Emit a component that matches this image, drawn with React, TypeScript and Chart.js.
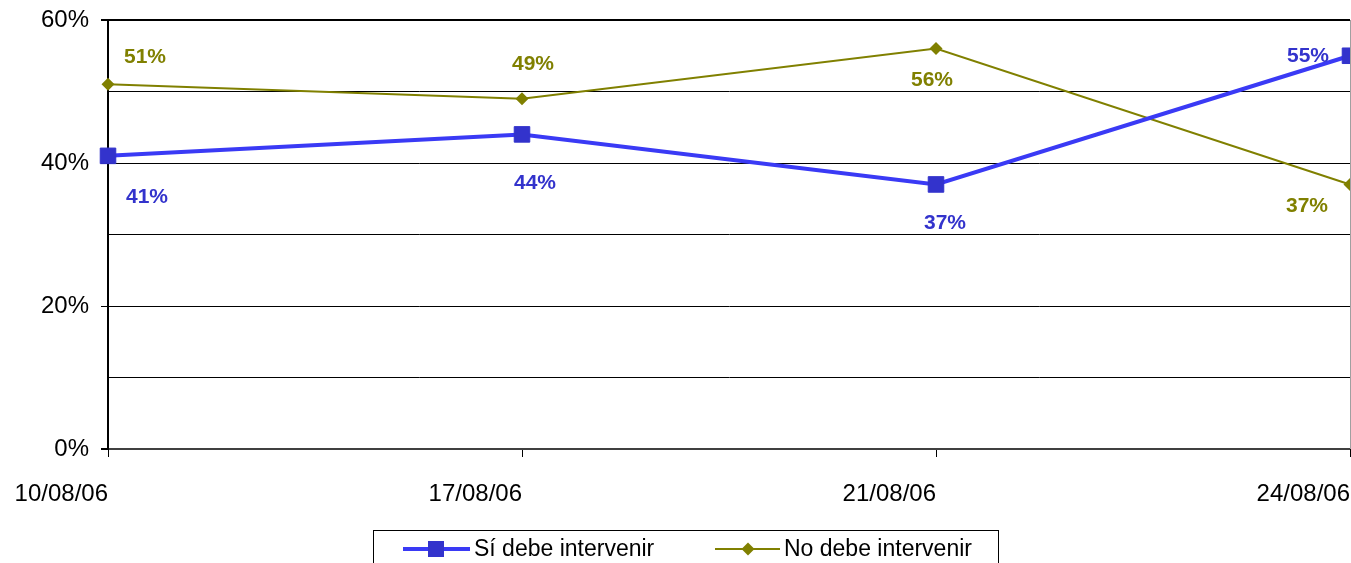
import React, { useEffect, useRef } from "react";
import { Chart, registerables } from "chart.js";

Chart.register(...registerables);

const categories = ["10/08/06", "17/08/06", "21/08/06", "24/08/06"];
const siDebe = [41, 44, 37, 55];
const noDebe = [51, 49, 56, 37];
const seriesNames = ["Sí debe intervenir", "No debe intervenir"];
const yTickValues = [0, 20, 40, 60];

// label offsets relative to each point (layout only)
const siLabelOffsets = [[39, 41], [13, 49], [9, 39], [-42, 0]];
const noLabelOffsets = [[37, -27], [11, -34], [-4, 32], [-43, 22]];

const BLUE_LINE = "#3A3AF5";
const BLUE_MARK = "#3333CC";
const OLIVE = "#808000";
const FONT = "Arial, 'Liberation Sans', sans-serif";

const zeroPad = (s: any) => {
  s.paddingLeft = 0;
  s.paddingRight = 0;
  s.paddingTop = 0;
  s.paddingBottom = 0;
};

const labelPlugin = {
  id: "pointLabels",
  afterDatasetsDraw(chart: any) {
    const ctx = chart.ctx;
    const offsets = [siLabelOffsets, noLabelOffsets];
    const colors = [BLUE_MARK, OLIVE];
    ctx.save();
    ctx.font = `bold 21px ${FONT}`;
    ctx.textAlign = "center";
    ctx.textBaseline = "middle";
    chart.data.datasets.forEach((ds: any, di: number) => {
      const meta = chart.getDatasetMeta(di);
      meta.data.forEach((el: any, i: number) => {
        const [dx, dy] = offsets[di][i];
        ctx.fillStyle = colors[di];
        ctx.fillText(ds.data[i] + "%", el.x + dx, el.y + dy);
      });
    });
    ctx.restore();
  },
};

const framePlugin = {
  id: "frameAndLegend",
  afterDraw(chart: any) {
    const ctx = chart.ctx;
    const a = chart.chartArea;
    ctx.save();
    // right border
    ctx.strokeStyle = "#A0A0A0";
    ctx.lineWidth = 1;
    ctx.beginPath();
    ctx.moveTo(a.right + 0.5, a.top);
    ctx.lineTo(a.right + 0.5, a.bottom);
    ctx.stroke();

    // legend
    const lx = a.left + 265;
    const ly = 530;
    const lw = 625;
    const lh = 45;
    ctx.strokeStyle = "#000";
    ctx.lineWidth = 1;
    ctx.strokeRect(lx + 0.5, ly + 0.5, lw, lh);
    const cy = ly + 19;
    ctx.font = `23px ${FONT}`;
    ctx.textBaseline = "middle";
    ctx.textAlign = "left";

    // item 1
    ctx.strokeStyle = BLUE_LINE;
    ctx.lineWidth = 4;
    ctx.beginPath();
    ctx.moveTo(lx + 30, cy);
    ctx.lineTo(lx + 97, cy);
    ctx.stroke();
    ctx.fillStyle = BLUE_MARK;
    ctx.fillRect(lx + 63 - 8, cy - 8, 16, 16);
    ctx.fillStyle = "#000";
    ctx.fillText(chart.data.datasets[0].label, lx + 101, cy + 1);

    // item 2
    ctx.strokeStyle = OLIVE;
    ctx.lineWidth = 2;
    ctx.beginPath();
    ctx.moveTo(lx + 342, cy);
    ctx.lineTo(lx + 407, cy);
    ctx.stroke();
    ctx.fillStyle = OLIVE;
    ctx.beginPath();
    const dxm = lx + 375;
    ctx.moveTo(dxm, cy - 6.5);
    ctx.lineTo(dxm + 6.5, cy);
    ctx.lineTo(dxm, cy + 6.5);
    ctx.lineTo(dxm - 6.5, cy);
    ctx.closePath();
    ctx.fill();
    ctx.fillStyle = "#000";
    ctx.fillText(chart.data.datasets[1].label, lx + 411, cy + 1);
    ctx.restore();
  },
};

export default function App() {
  const ref = useRef<HTMLCanvasElement>(null);

  useEffect(() => {
    if (!ref.current) return;
    const chart = new Chart(ref.current, {
      type: "line",
      data: {
        labels: categories,
        datasets: [
          {
            label: seriesNames[0],
            data: siDebe,
            borderColor: BLUE_LINE,
            borderWidth: 4,
            pointStyle: "rect",
            pointRadius: 11,
            pointBackgroundColor: BLUE_MARK,
            pointBorderColor: BLUE_MARK,
            pointBorderWidth: 1,
            tension: 0,
            clip: false as any,
          },
          {
            label: seriesNames[1],
            data: noDebe,
            borderColor: OLIVE,
            borderWidth: 2,
            pointStyle: "rectRot",
            pointRadius: 6.5,
            pointBackgroundColor: OLIVE,
            pointBorderColor: OLIVE,
            pointBorderWidth: 0,
            tension: 0,
            clip: false as any,
          },
        ],
      },
      options: {
        responsive: false,
        animation: false,
        devicePixelRatio: 1,
        layout: { padding: { top: 20, right: 50, left: 0, bottom: 0 } },
        plugins: {
          legend: { display: false },
          tooltip: { enabled: false },
        },
        scales: {
          x: {
            type: "category",
            offset: false,
            afterFit: (s: any) => {
              s.height = 114;
              zeroPad(s);
            },
            grid: {
              display: true,
              drawOnChartArea: false,
              drawTicks: true,
              tickLength: 8,
              color: "#000",
              lineWidth: 1,
            },
            border: { display: false },
            ticks: {
              align: "end",
              autoSkip: false,
              maxRotation: 0,
              minRotation: 0,
              padding: 23,
              color: "#000",
              font: { family: FONT, size: 24 },
            },
          },
          y: {
            min: 0,
            max: 60,
            afterFit: (s: any) => {
              s.width = 108;
              zeroPad(s);
            },
            afterBuildTicks: (s: any) => {
              s.ticks = [0, 10, 20, 30, 40, 50, 60].map((v) => ({ value: v }));
            },
            grid: {
              color: (c: any) => (c.tick && c.tick.value === 0 ? "#404040" : "#000"),
              lineWidth: (c: any) =>
                c.tick && (c.tick.value === 60 || c.tick.value === 0) ? 2 : 1,
              tickColor: (c: any) =>
                c.tick && yTickValues.includes(c.tick.value) ? "#000" : "rgba(0,0,0,0)",
              tickLength: 7,
              drawTicks: true,
            },
            border: { display: true, color: "#000", width: 2 },
            ticks: {
              padding: 12,
              color: "#000",
              font: { family: FONT, size: 24 },
              callback: (v: any) => (yTickValues.includes(Number(v)) ? v + "%" : ""),
            },
          },
        },
      },
      plugins: [labelPlugin, framePlugin],
    });
    return () => chart.destroy();
  }, []);

  return (
    <canvas
      ref={ref}
      width={1400}
      height={563}
      style={{ position: "fixed", left: 0, top: 0, display: "block" }}
    />
  );
}
